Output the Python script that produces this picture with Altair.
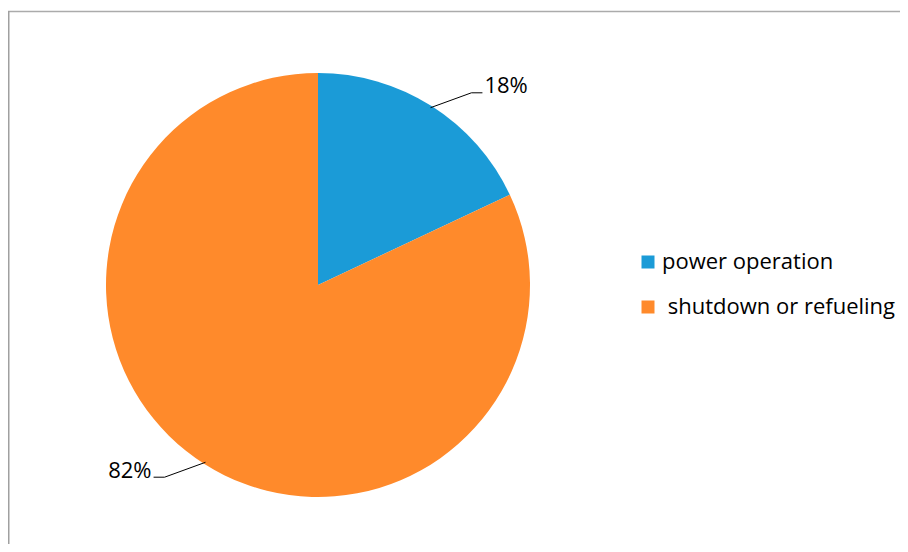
import math
import altair as alt
import pandas as pd

# ---- data ----
categories = ["power operation", "shutdown or refueling"]
shares = [18, 82]
label_texts = ["18%", "82%"]
colors = ["#1B9BD7", "#FF8A2B"]

# ---- layout (pixels) ----
W, H = 892, 536
CX, CY = 310, 277
R = 212

pie_df = pd.DataFrame({"category": categories, "share": shares, "order": list(range(len(shares)))})

# leader lines / labels derived from the shares
total = sum(shares)
line_rows, text_rows = [], []
cum = 0
for cat, s, lab in zip(categories, shares, label_texts):
    mid = (cum + s / 2) / total
    cum += s
    a = 2 * math.pi * mid
    side = 1 if math.sin(a) >= 0 else -1
    ex, ey = (R - 2) * math.sin(a), (R - 2) * math.cos(a)
    b = a + math.radians(6.2)
    kx, ky = 1.16 * R * math.sin(b), 1.16 * R * math.cos(b)
    tx = kx + side * 11
    for i, (px, py) in enumerate([(ex, ey), (kx, ky), (tx, ky)]):
        line_rows.append({"category": cat, "i": i, "px": px, "py": py})
    text_rows.append({"label": lab, "px": tx + side * 2, "py": ky,
                      "side": "right" if side > 0 else "left"})
line_df = pd.DataFrame(line_rows)
text_df = pd.DataFrame(text_rows)

xs = alt.Scale(domain=[-CX, W - CX], range=[0, W], nice=False, zero=False)
ys = alt.Scale(domain=[CY - H, CY], range=[H, 0], nice=False, zero=False)

pie = alt.Chart(pie_df).mark_arc(outerRadius=R).encode(
    theta=alt.Theta("share:Q", stack=True),
    order=alt.Order("order:Q"),
    color=alt.Color(
        "category:N",
        scale=alt.Scale(domain=categories, range=colors),
        legend=alt.Legend(
            title=None, orient="none", legendX=629, legendY=243, padding=0,
            symbolType="square", symbolSize=169, symbolStrokeWidth=0,
            labelFont="Open Sans", labelFontSize=22, labelColor="black",
            labelOffset=3, rowPadding=23, labelLimit=500,
            labelExpr="datum.index == 1 ? '\u200b\u00a0' + datum.label : datum.label",
        ),
    ),
    x=alt.value(CX),
    y=alt.value(CY),
)

leaders = alt.Chart(line_df).mark_line(color="black", strokeWidth=1).encode(
    x=alt.X("px:Q", scale=xs, axis=None),
    y=alt.Y("py:Q", scale=ys, axis=None),
    detail="category:N",
    order="i:Q",
)

txt_r = alt.Chart(text_df).transform_filter("datum.side == 'right'").mark_text(
    font="Open Sans", fontSize=22, align="left", baseline="alphabetic", dy=0, color="black"
).encode(x=alt.X("px:Q", scale=xs), y=alt.Y("py:Q", scale=ys), text="label:N")

txt_l = alt.Chart(text_df).transform_filter("datum.side == 'left'").mark_text(
    font="Open Sans", fontSize=22, align="right", baseline="alphabetic", dy=1, color="black"
).encode(x=alt.X("px:Q", scale=xs), y=alt.Y("py:Q", scale=ys), text="label:N")

border_src = alt.Data(values=[{"k": 1}])
top_rule = alt.Chart(border_src).mark_rule(color="#ABABAB", strokeWidth=1.5).encode(
    x=alt.value(0), x2=alt.value(W), y=alt.value(3.5)
)
left_rule = alt.Chart(border_src).mark_rule(color="#A0A0A0", strokeWidth=1.5).encode(
    x=alt.value(0.75), y=alt.value(3), y2=alt.value(H)
)

chart = alt.layer(pie, leaders, txt_r, txt_l, top_rule, left_rule).properties(
    width=W, height=H, padding=0, autosize=alt.AutoSizeParams(type="none"),
    background="white",
).configure_view(stroke=None)

chart.save("out.html", embed_options={"renderer": "svg", "actions": False})
